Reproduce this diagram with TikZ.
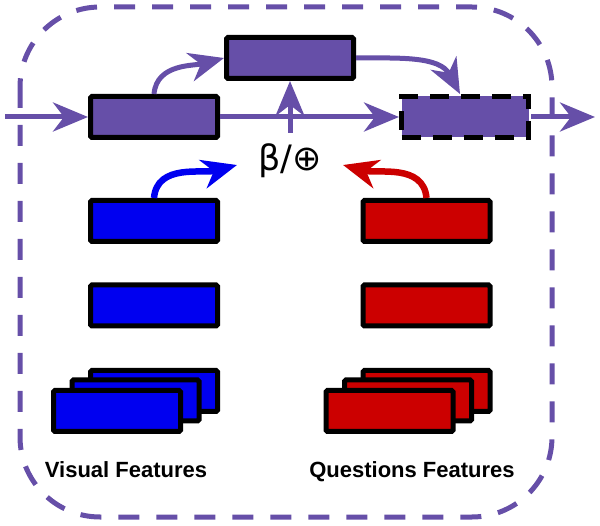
\documentclass[tikz,border=0pt]{standalone}
\usepackage{fontspec}
\setmainfont{Liberation Sans}
\newfontfamily\dejavu{DejaVu Sans}
\usetikzlibrary{arrows.meta}
\definecolor{vpurple}{RGB}{102,79,168}
\definecolor{vblue}{RGB}{0,0,240}
\definecolor{vred}{RGB}{204,0,0}
\begin{document}
\begin{tikzpicture}[x=1pt,y=-1pt,
  >={Stealth[length=35pt,width=29pt,inset=11pt]},
  feat/.style={draw=black, line width=5pt, minimum width=127pt, minimum height=41pt, inner sep=0pt, rounded corners=1.5pt},
  pbox/.style={feat, fill=vpurple},
  bbox/.style={feat, fill=vblue},
  rbox/.style={feat, fill=vred},
  parrow/.style={->, draw=vpurple, line width=5pt},
  barrow/.style={->, draw=vblue, line width=6.5pt},
  rarrow/.style={->, draw=vred, line width=6.5pt},
  flabel/.style={font=\bfseries\fontsize{22}{26}\selectfont, anchor=base, inner sep=0pt}
]
\useasboundingbox (0,0) rectangle (600,526);
% outer dashed frame
\draw[vpurple, line width=5pt, dash pattern=on 21pt off 17pt, rounded corners=80pt] (20,7) rectangle (552,517);

% purple boxes
\node[pbox] (A) at (154,117) {};
\node[pbox] (B) at (290,58) {};
\node[feat, fill=vpurple, dash pattern=on 19pt off 12pt, rounded corners=0pt] (C) at (465,117) {};

% coordinates
\coordinate (in) at (5,117);
\coordinate (out) at (595,117);
\coordinate (vstart) at (290,133);
\coordinate (bluetip) at (237,165);
\coordinate (redtip) at (343,165);

% operator text
\node[font=\dejavu\fontsize{35}{40}\selectfont, inner sep=0pt] (op) at (290,161) {β/⊕};

% feature boxes
\node[bbox] (V1) at (154,221) {};
\node[bbox] (V2) at (154,305.5) {};
\node[rbox] (R1) at (426.5,221) {};
\node[rbox] (R2) at (426.5,305.5) {};

% stacks
\node[bbox] (V3a) at (154,391) {};
\node[bbox] (V3b) at (135.5,400.5) {};
\node[bbox] (V3c) at (117,411) {};
\node[rbox] (R3a) at (426.5,391) {};
\node[rbox] (R3b) at (408,400.5) {};
\node[rbox] (R3c) at (389.5,411) {};

% labels
\node[flabel] (vl) at (126,478) {Visual Features};
\node[flabel] (ql) at (412,478) {Questions Features};

% connectors
\draw[parrow] (in) -- (A.west);
\draw[parrow] (A.east) -- (C.west);
\draw[parrow] (C.east) -- (out);
\draw[parrow] (vstart) -- (B.south);
\draw[parrow] (A.north) to[out=85, in=195] (B.west);
\draw[parrow] (B.east) to[out=0, in=118] ([xshift=-5pt]C.north);
\draw[barrow] (V1.north) to[out=85, in=195] (bluetip);
\draw[rarrow] (R1.north) to[out=95, in=-15] (redtip);
\end{tikzpicture}
\end{document}
